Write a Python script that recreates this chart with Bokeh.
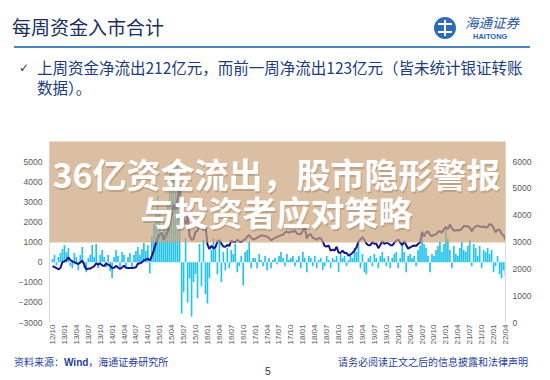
import math
from bokeh.plotting import figure
from bokeh.models import Range1d, LinearAxis, FixedTicker, Label, BoxAnnotation, Div
from bokeh.layouts import column
from bokeh.embed import file_html
from bokeh.resources import INLINE

# ---------------- data (half-monthly, starting 2012-10) ----------------
x_labels = ["12/10", "13/01", "13/04", "13/07", "13/10", "14/01", "14/04", "14/07", "14/10",
            "15/01", "15/04", "15/07", "15/10", "16/01", "16/04", "16/07", "16/10",
            "17/01", "17/04", "17/07", "17/10", "18/01", "18/04", "18/07", "18/10",
            "19/01", "19/04", "19/07", "19/10", "20/01", "20/04", "20/07", "20/10",
            "21/01", "21/04", "21/07", "21/10", "22/01", "22/04"]

# weekly net inflow (亿元), left axis
flows_2012 = [150, 350, -150, 250, 450, 650]
flows_2013 = [850, 500, 700, -200, -300, 450, 250, -400, 350, 750, -300, -500,
              200, 350, 850, 250, 900, -300, 350, 600, 250, -250, 350, -450]
flows_2014 = [-800, 250, 600, 300, -250, 500, 350, -300, 250, 450, -250, 350,
              550, 750, 350, 650, 950, 550, 850, -550, 1300, 1900, 2600, 3300]
flows_2015 = [2500, 1500, 2200, 1800, 3000, 4500, 5000, 4200, 3500, 4800, 2500, -2550,
              -1500, 1200, -2000, -800, -2700, -1000, -600, -1800, 900, -1200, 1100, -1600]
flows_2016 = [-2050, -800, 600, 1200, 800, -600, 1100, -1000, 500, -400, 700, -300,
              600, 400, 900, -500, -200, 300, -1150, 500, 600, 1000, -300, 200]
flows_2017 = [200, -300, 400, 100, -200, 300, -400, 200, -300, 100, 200, -100,
              300, 500, 200, -200, 400, 100, 200, 300, -200, 100, 300, -300]
flows_2018 = [500, 200, -500, 300, 200, -200, 300, -300, 100, 200, -400, -200,
              300, 100, -300, 200, 100, 300, -500, 400, 200, 300, -200, 100]
flows_2019 = [300, 200, 700, 500, 900, -300, 400, -500, -600, 200, 300, -200,
              400, 200, -300, 300, 500, 200, -200, 300, -300, 200, 400, 500]
flows_2020 = [-300, 200, 900, 500, -500, 300, 400, 200, 300, -200, 600, 800,
              1500, 900, 700, 300, -500, 400, 300, 600, 800, 1000, 500, 900]
flows_2021 = [1800, 1200, 600, -300, 800, 400, 300, 700, 1000, 600, 500, 800,
              1100, -200, 900, 700, 300, 800, -300, 600, 500, 700, 400, 600]
flows_2022 = [-500, -200, 300, -600, -800, -400, -700]

# index level, right axis
idx_2012 = [2100, 2070, 2030, 1980, 2030, 2250]
idx_2013 = [2280, 2320, 2430, 2330, 2280, 2240, 2210, 2180, 2240, 2300, 2150, 1980,
            2000, 2010, 2050, 2100, 2200, 2160, 2200, 2130, 2100, 2200, 2160, 2120]
idx_2014 = [2030, 2040, 2110, 2050, 2000, 2050, 2120, 2040, 2030, 2030, 2030, 2040,
            2060, 2200, 2200, 2240, 2320, 2340, 2380, 2310, 2480, 2680, 2940, 3160]
idx_2015 = [3280, 3350, 3080, 3250, 3370, 3690, 4030, 4390, 4200, 4610, 5130, 4190,
            3880, 3660, 3960, 3230, 3080, 3100, 3390, 3410, 3630, 3630, 3440, 3630]
idx_2016 = [2900, 2740, 2860, 2760, 2810, 3020, 3070, 2940, 2830, 2820, 2890, 2850,
            3050, 3000, 3000, 3080, 3020, 3000, 3060, 3100, 3200, 3260, 3150, 3100]
idx_2017 = [3120, 3160, 3200, 3250, 3240, 3220, 3200, 3150, 3060, 3110, 3150, 3190,
            3220, 3250, 3270, 3360, 3380, 3350, 3390, 3380, 3430, 3320, 3290, 3300]
idx_2018 = [3430, 3560, 3130, 3270, 3290, 3150, 3130, 3080, 3150, 3140, 3020, 2850,
            2830, 2870, 2680, 2720, 2680, 2820, 2600, 2600, 2680, 2590, 2590, 2490]
idx_2019 = [2530, 2600, 2680, 2800, 3020, 3090, 3180, 3080, 2940, 2880, 2880, 3000,
            2930, 2940, 2770, 2890, 3030, 2930, 2970, 2950, 2890, 2870, 2970, 3050]
idx_2020 = [3090, 2980, 2880, 3030, 2890, 2750, 2800, 2840, 2870, 2850, 2930, 2980,
            3380, 3200, 3360, 3400, 3260, 3220, 3270, 3280, 3370, 3410, 3350, 3470]
idx_2021 = [3560, 3480, 3650, 3510, 3420, 3440, 3450, 3440, 3490, 3600, 3590, 3590,
            3540, 3400, 3520, 3580, 3610, 3570, 3570, 3580, 3540, 3560, 3670, 3640]
idx_2022 = [3520, 3360, 3460, 3460, 3310, 3250, 3090]

flows = (flows_2012 + flows_2013 + flows_2014 + flows_2015 + flows_2016 + flows_2017 +
         flows_2018 + flows_2019 + flows_2020 + flows_2021 + flows_2022)
index = (idx_2012 + idx_2013 + idx_2014 + idx_2015 + idx_2016 + idx_2017 +
         idx_2018 + idx_2019 + idx_2020 + idx_2021 + idx_2022)
xs = [i * 0.5 for i in range(len(flows))]          # months since 2012-10
x_ticks = [3 * i for i in range(len(x_labels))]

left_ticks = [-3000, -2000, -1000, 0, 1000, 2000, 3000, 4000, 5000]
right_ticks = [0, 1000, 2000, 3000, 4000, 5000, 6000]

title_text = "每周资金入市合计"
bullet_1 = "上周资金净流出212亿元，而前一周净流出123亿元（皆未统计银证转账"
bullet_2 = "数据）。"
banner_1 = "36亿资金流出，股市隐形警报"
banner_2 = "与投资者应对策略"
source_text = ("资料来源：", "Wind", "，海通证券研究所")
disclaimer = "请务必阅读正文之后的信息披露和法律声明"
page_no = "5"

CJK = "Noto Sans CJK SC"
LAT = "Liberation Sans"
TAN = "#cca47c"

HDR_H = 127                         # header block height (page px)

# ---------------- header (HTML) ----------------
def abs_div(left, top, inner, style=""):
    return f'<div style="position:absolute;left:{left}px;top:{top}px;{style}">{inner}</div>'

header_html = (
    f'<div style="position:relative;width:550px;height:{HDR_H}px;background:#ffffff;'
    f'font-family:\'{CJK}\';white-space:nowrap;margin:0;padding:0;">'
    + abs_div(12, 17, title_text, "font-size:19px;line-height:19px;color:#1b2c5e;")
    + abs_div(14, 46, "", "width:516px;height:2px;background:#4a86be;")
    + abs_div(434, 17, "", "width:22px;height:22px;border-radius:11px;background:#2d6db5;")
    + abs_div(438, 23, "", "width:14px;height:1.6px;background:#ffffff;")
    + abs_div(438, 31, "", "width:14px;height:1.6px;background:#ffffff;")
    + abs_div(444.2, 20, "", "width:1.6px;height:16px;background:#ffffff;")
    + abs_div(465, 16, "海通证券", "font-size:13.5px;line-height:13.5px;font-style:italic;color:#2355a0;")
    + abs_div(473, 32.5, "HAITONG", f"font-family:'{LAT}';font-size:7.5px;line-height:7.5px;"
                                   "font-weight:bold;color:#2a63ad;")
    + abs_div(19, 62, "✓", "font-family:'DejaVu Sans';font-size:12px;line-height:12px;color:#1b2c5e;")
    + abs_div(37, 60, bullet_1, "font-size:15.5px;line-height:15.5px;color:#203a80;")
    + abs_div(37, 80, bullet_2, "font-size:15.5px;line-height:15.5px;color:#203a80;")
    + '</div>'
)
header = Div(text=header_html, width=550, height=HDR_H, margin=(0, 0, 0, 0))

footer_html = (
    f'<div style="position:relative;width:550px;height:30px;background:#ffffff;'
    f'font-family:\'{CJK}\';white-space:nowrap;margin:0;padding:0;">'
    + abs_div(14, 7, source_text[0] + f'<b style="font-family:\'{LAT}\';">{source_text[1]}</b>'
              + source_text[2], "font-size:10px;line-height:10px;color:#1f3f99;")
    + abs_div(338, 7, disclaimer, "font-size:10px;line-height:10px;color:#1f3f99;")
    + abs_div(265, 16, page_no, f"font-family:'{LAT}';font-size:10.5px;line-height:10.5px;color:#333333;")
    + '</div>'
)
footer = Div(text=footer_html, width=550, height=30, margin=(0, 0, 0, 0))

# ---------------- chart ----------------
CH_TOP = HDR_H                      # page y of chart canvas top
FL, FR, FT, FB = 42, 510, 161, 322  # page pixels where the axis scales sit
W, H = 550, 350 - HDR_H
left_top = 5000 + (FT - CH_TOP) * 8000 / (FB - FT)
right_top = 6000 + (FT - CH_TOP) * 6000 / (FB - FT)

p = figure(width=W, height=H, title=None,
           x_range=Range1d(-0.75, 114.0), y_range=Range1d(-3000, left_top),
           output_backend="svg", toolbar_location=None, margin=(0, 0, 0, 0),
           min_border_left=FL, min_border_right=W - FR, min_border_top=0,
           min_border_bottom=CH_TOP + H - FB)
p.extra_y_ranges = {"idx": Range1d(0, right_top)}
p.add_layout(LinearAxis(y_range_name="idx"), "right")
p.grid.visible = False
p.outline_line_color = None
p.background_fill_color = "white"
p.border_fill_color = "white"

p.yaxis[0].ticker = FixedTicker(ticks=left_ticks)
p.yaxis[0].bounds = (-3000, 5000)
p.yaxis[1].ticker = FixedTicker(ticks=right_ticks)
p.yaxis[1].bounds = (0, 6000)
for ax, stand in zip(p.yaxis, (11, 12)):
    ax.axis_line_color = "#d9d9d9"
    ax.major_tick_line_color = None
    ax.minor_tick_line_color = None
    ax.major_tick_in = 0
    ax.major_tick_out = 0
    ax.major_label_text_color = "#595959"
    ax.major_label_text_font = LAT
    ax.major_label_text_font_size = "8.5px"
    ax.major_label_standoff = 7
    # blank axis label only widens the side panel so the overlay reaches the edge
    ax.axis_label = " "
    ax.axis_label_text_font_size = "1px"
    ax.axis_label_standoff = stand

xa = p.xaxis[0]
xa.ticker = FixedTicker(ticks=x_ticks)
xa.major_label_overrides = {t: lab for t, lab in zip(x_ticks, x_labels)}
xa.major_label_orientation = math.pi / 2
xa.axis_line_color = None
xa.major_tick_line_color = None
xa.minor_tick_line_color = None
xa.major_tick_in = 0
xa.major_tick_out = 0
xa.major_label_text_color = "#595959"
xa.major_label_text_font = LAT
xa.major_label_text_font_size = "8px"
xa.major_label_standoff = 2

p.vbar(x=xs, top=flows, bottom=0, width=0.42, fill_color="#22c3f0", line_color=None)
p.line(x=xs, y=index, y_range_name="idx", line_color="#16168c", line_width=2)


# page pixel -> data coordinates for the overlay
def fx(px):
    return -0.75 + (px - FL) * 114.75 / (FR - FL)


def fy(py):
    return 5000 - (py - FT) * 8000 / (FB - FT)


BANNER_TOP, BANNER_BOTTOM = 141, 242
# overlay banner: inside the plot area as a quad, over the side axes as boxes
p.quad(left=[fx(FL - 5)], right=[fx(FR + 5)], top=[fy(BANNER_TOP)], bottom=[fy(BANNER_BOTTOM)],
       fill_color=TAN, fill_alpha=0.7, line_color=None)
p.add_layout(BoxAnnotation(left=fx(-20), right=fx(FL), top=fy(BANNER_TOP), bottom=fy(BANNER_BOTTOM),
                           fill_color=TAN, fill_alpha=0.7, line_color=None))
p.add_layout(BoxAnnotation(left=fx(FR), right=fx(570), top=fy(BANNER_TOP), bottom=fy(BANNER_BOTTOM),
                           fill_color=TAN, fill_alpha=0.7, line_color=None))
for txt, py in [(banner_1, 173), (banner_2, 211)]:
    p.add_layout(Label(x=fx(275), y=fy(py), text=txt, text_align="center", text_baseline="middle",
                       text_font=CJK, text_font_size="34px", text_font_style="bold",
                       text_color="#6b4a30", text_alpha=0.25, x_offset=1, y_offset=-2))
    p.add_layout(Label(x=fx(275), y=fy(py), text=txt, text_align="center", text_baseline="middle",
                       text_font=CJK, text_font_size="34px", text_font_style="bold",
                       text_color="white"))

layout = column(header, p, footer, spacing=0)
open("out.html", "w").write(file_html(layout, INLINE))
